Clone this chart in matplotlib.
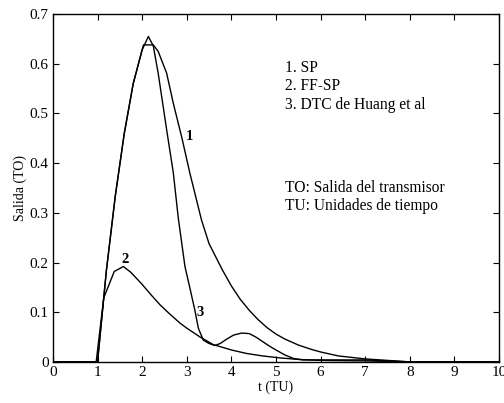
import matplotlib
matplotlib.use("Agg")
import matplotlib.pyplot as plt

# Curve 1: SP
t_sp = [0, 1.0, 1.2, 1.4, 1.6, 1.8, 2.0, 2.03, 2.25, 2.36, 2.55, 2.7, 2.886, 3.07, 3.33,
        3.5, 3.8, 4.0, 4.2, 4.4, 4.6, 4.8, 5.0, 5.2, 5.5, 5.8, 6.0, 6.4, 7.0, 7.5, 8.0, 10]
y_sp = [0, 0, 0.185, 0.335, 0.46, 0.56, 0.628, 0.638, 0.638, 0.625, 0.581, 0.52, 0.453, 0.38, 0.286,
        0.238, 0.185, 0.153, 0.126, 0.104, 0.085, 0.069, 0.056, 0.046, 0.034, 0.025, 0.02, 0.012,
        0.006, 0.003, 0.0, 0]

# Curve 2: FF-SP
t_ff = [0, 0.97, 1.14, 1.375, 1.58, 1.75, 2.0, 2.2, 2.4, 2.6, 2.85, 3.0, 3.3, 3.59, 4.0, 4.34,
        4.7, 5.09, 5.5, 6.0, 7.0, 8.0, 10]
y_ff = [0, 0, 0.129, 0.182, 0.192, 0.18, 0.156, 0.135, 0.115, 0.098, 0.078, 0.068, 0.05, 0.035,
        0.024, 0.017, 0.012, 0.008, 0.005, 0.003, 0.002, 0.0, 0]

# Curve 3: DTC de Huang et al
t_dtc = [0, 1.0, 1.2, 1.4, 1.6, 1.8, 2.0, 2.14, 2.25, 2.36, 2.55, 2.7, 2.81, 2.96, 3.08,
         3.18, 3.26, 3.37, 3.5, 3.63, 3.75, 3.9, 4.05, 4.23, 4.4, 4.55, 4.7, 4.85, 5.0, 5.2,
         5.39, 5.6, 7.0, 8.0, 10]
y_dtc = [0, 0, 0.185, 0.335, 0.46, 0.56, 0.628, 0.655, 0.636, 0.581, 0.467, 0.38, 0.29, 0.192,
         0.145, 0.105, 0.068, 0.044, 0.037, 0.033, 0.037, 0.046, 0.054, 0.058, 0.057, 0.05, 0.041,
         0.032, 0.024, 0.014, 0.007, 0.004, 0.004, 0.0, 0]

x_ticks = list(range(0, 11))
y_ticks = [0, 0.1, 0.2, 0.3, 0.4, 0.5, 0.6, 0.7]
y_tick_labels = ["0", "0.1", "0.2", "0.3", "0.4", "0.5", "0.6", "0.7"]

legend_lines = ["1. SP", "2. FF-SP", "3. DTC de Huang et al"]
note_lines = ["TO: Salida del transmisor", "TU: Unidades de tiempo"]

plt.rcParams['font.family'] = ['Liberation Serif', 'DejaVu Serif']

fig = plt.figure(figsize=(5.04, 4.03), dpi=100)
ax = fig.add_axes([0.105, 0.102, 0.885, 0.863])

for t, y in [(t_sp, y_sp), (t_ff, y_ff), (t_dtc, y_dtc)]:
    ax.plot(t, y, color='black', linewidth=1.0)

ax.set_xlim(0, 10)
ax.set_ylim(0, 0.7)
ax.set_xticks(x_ticks)
ax.set_xticklabels([str(v) for v in x_ticks])
ax.set_yticks(y_ticks)
ax.set_yticklabels(y_tick_labels)
ax.tick_params(direction='in', top=True, right=True, length=4, width=0.8,
               labelsize=11, pad=3)
for s in ax.spines.values():
    s.set_linewidth(1.0)

ax.set_xlabel("t (TU)", fontsize=10, labelpad=1)
ax.set_ylabel("Salida (TO)", fontsize=10, labelpad=2)

# curve labels
ax.text(3.07, 0.454, "1", fontsize=10.5, fontweight='bold', ha='center', va='center')
ax.text(1.62, 0.206, "2", fontsize=10.5, fontweight='bold', ha='center', va='center')
ax.text(3.3, 0.10, "3", fontsize=10.5, fontweight='bold', ha='center', va='center')

for i, s in enumerate(legend_lines):
    ax.text(5.2, 0.592 - i * 0.0375, s, fontsize=11.2, ha='left', va='center')
for i, s in enumerate(note_lines):
    ax.text(5.2, 0.35 - i * 0.0355, s, fontsize=11.2, ha='left', va='center')

fig.savefig("out.png", dpi=100)
